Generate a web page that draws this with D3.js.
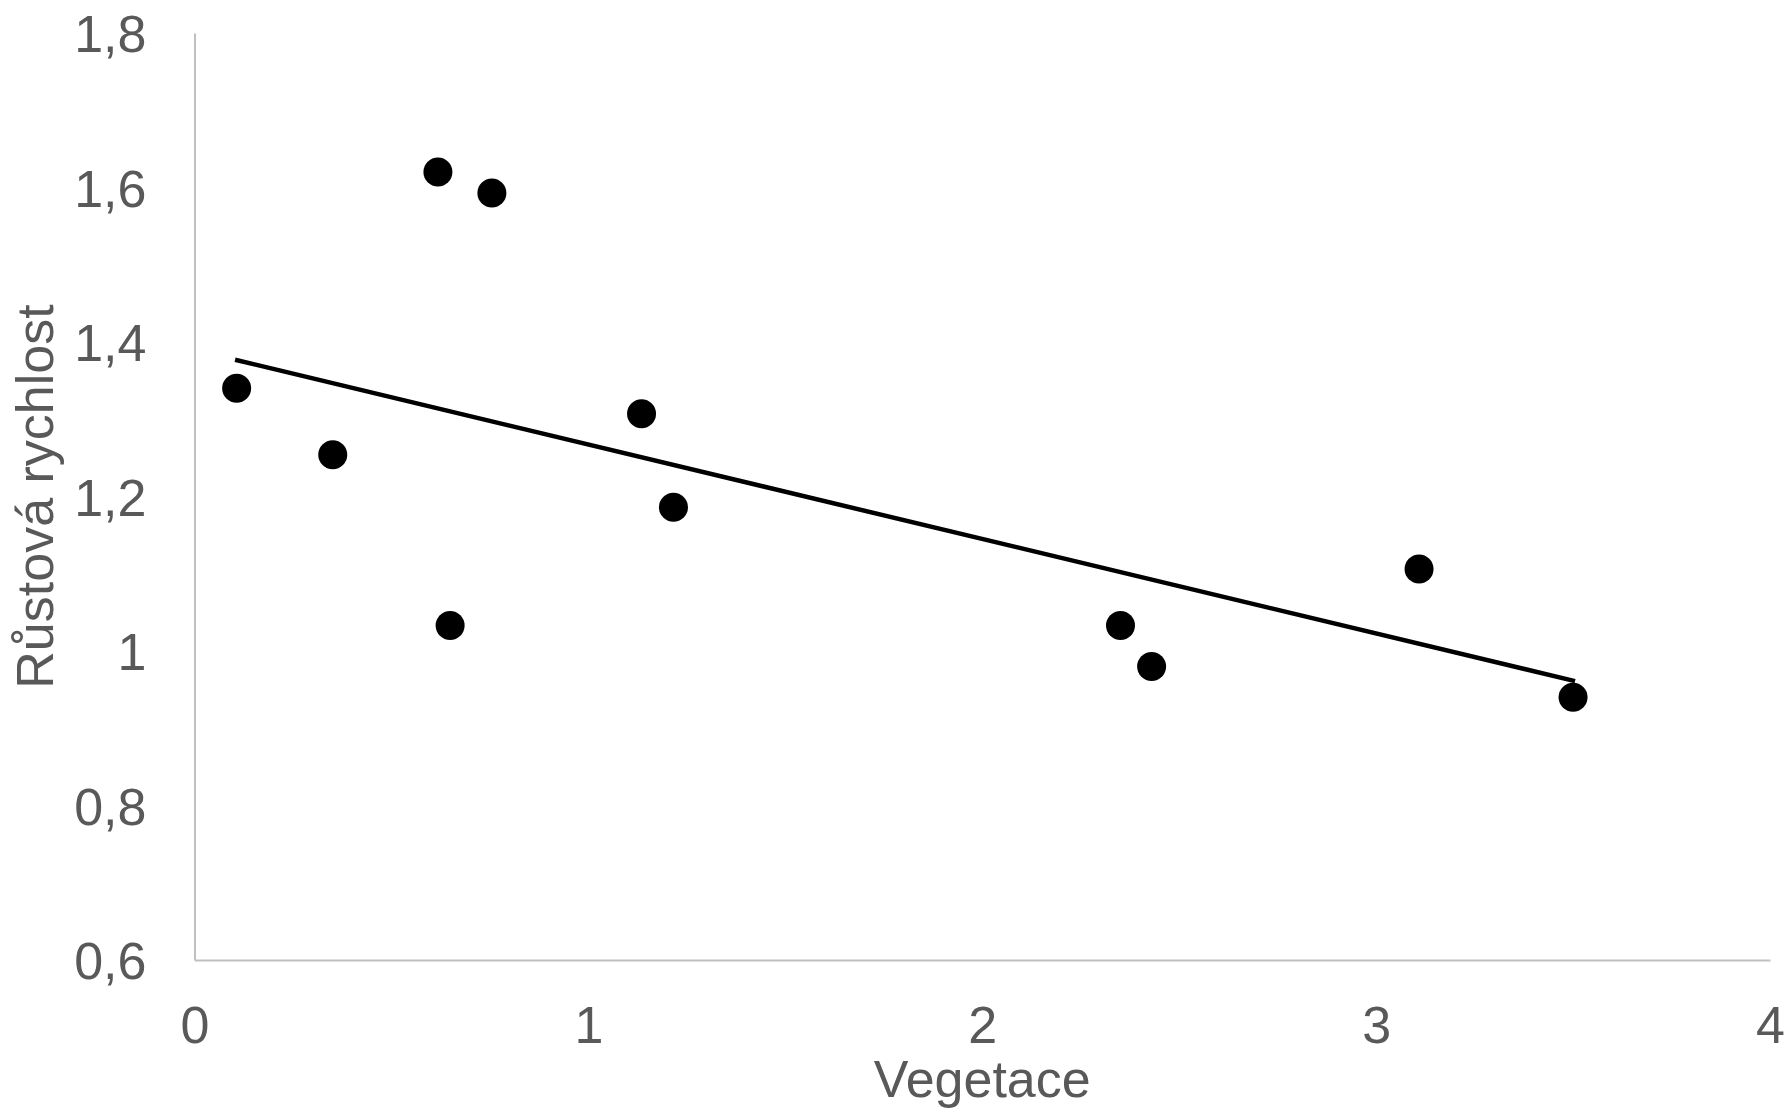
<!DOCTYPE html>
<html><head><meta charset="utf-8">
<script src="https://cdn.jsdelivr.net/npm/d3@7"></script>
<style>html,body{margin:0;padding:0;background:#fff;}</style>
</head><body>
<svg id="chart" width="1787" height="1109"></svg>
<script>
const vegetace = [0.107, 0.351, 0.618, 0.649, 0.755, 1.135, 1.216, 2.351, 2.430, 3.109, 3.500];
const rychlost = [1.340, 1.254, 1.620, 1.033, 1.593, 1.307, 1.186, 1.033, 0.980, 1.106, 0.940];
// linear trendline as drawn in the reference (endpoints)
const trendX = [0.103, 3.505];
const trendY = [1.377, 0.961];
const xTicks = [0, 1, 2, 3, 4];
const yTicks = [0.6, 0.8, 1.0, 1.2, 1.4, 1.6, 1.8];
const xTitle = "Vegetace";
const yTitle = "Růstová rychlost";

(function () {
const svg = d3.select("#chart");
const pL = 194.5, pR = 1770, pT = 33, pB = 960;
const x = d3.scaleLinear().domain([0, 4]).range([pL, pR]);
const y = d3.scaleLinear().domain([0.6, 1.8]).range([pB, pT]);
const font = "'Liberation Sans', Arial, sans-serif";
const fmt = v => String(+(+v).toFixed(1)).replace(".", ",");

const xAxis = svg.append("g").attr("transform", `translate(0,${pB})`)
  .call(d3.axisBottom(x).tickValues(xTicks).tickSize(0).tickPadding(46).tickFormat(fmt));
const yAxis = svg.append("g").attr("transform", `translate(${pL},0)`)
  .call(d3.axisLeft(y).tickValues(yTicks).tickSize(0).tickPadding(48).tickFormat(fmt));
[xAxis, yAxis].forEach(a => {
  a.select(".domain").attr("stroke", "#c0c0c0").attr("stroke-width", 2);
  a.selectAll("text").attr("fill", "#595959").attr("font-size", 52).attr("font-family", font);
});
yAxis.selectAll("text").attr("dy", "0.36em");

svg.append("path")
  .datum(trendX.map((v, i) => [v, trendY[i]]))
  .attr("d", d3.line().x(d => x(d[0])).y(d => y(d[1])))
  .attr("stroke", "#000").attr("stroke-width", 4.5).attr("fill", "none");

svg.append("g").selectAll("circle").data(vegetace).join("circle")
  .attr("cx", d => x(d)).attr("cy", (d, i) => y(rychlost[i])).attr("r", 14.5).attr("fill", "#000");

svg.append("text").attr("x", (pL + pR) / 2).attr("y", 1097)
  .attr("text-anchor", "middle").attr("fill", "#595959").attr("font-size", 52).attr("font-family", font)
  .text(xTitle);
svg.append("text").attr("transform", `translate(53,${(pT + pB) / 2}) rotate(-90)`)
  .attr("text-anchor", "middle").attr("fill", "#595959").attr("font-size", 52).attr("font-family", font)
  .text(yTitle);
})();
</script>
</body></html>
